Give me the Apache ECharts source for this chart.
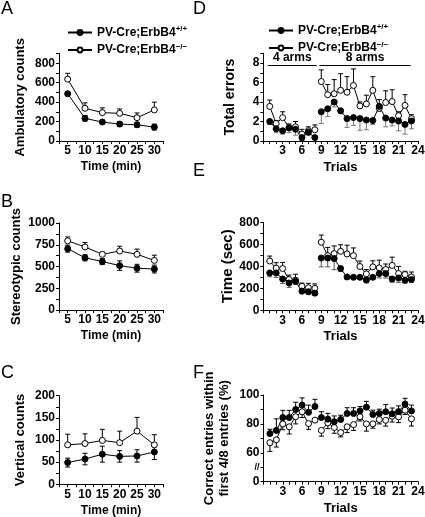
<!DOCTYPE html>
<html><head><meta charset="utf-8">
<script src="https://cdn.jsdelivr.net/npm/echarts@6/dist/echarts.min.js"></script>
<style>html,body{margin:0;padding:0;background:#fff}#c{width:425px;height:517px}</style>
</head><body><div id="c"></div>
<script>
// ---------- data ----------
const timeMin = [5, 10, 15, 20, 25, 30];
const trials = [1,2,3,4,5,6,7,8,9,10,11,12,13,14,15,16,17,18,19,20,21,22,23];
const nameWT = 'PV-Cre;ErbB4+/+';
const nameKO = 'PV-Cre;ErbB4−/−';

// A ambulatory counts
const ambWT = [487, 233, 195, 174, 167, 143];
const ambWTerr = [20, 28, 18, 25, 25, 30];
const ambKO = [637, 337, 292, 285, 240, 320];
const ambKOerr = [60, 56, 49, 45, 49, 80];
// B stereotypic counts
const stWT = [705, 600, 557, 510, 480, 471];
const stWTerr = [40, 35, 35, 55, 45, 45];
const stKO = [795, 725, 640, 678, 640, 570];
const stKOerr = [45, 50, 25, 55, 60, 60];
// C vertical counts
const vcWT = [49, 57, 68, 63, 64, 73];
const vcWTerr = [10, 13, 18, 13, 14, 17];
const vcKO = [89, 92, 99, 94, 120, 89];
const vcKOerr = [24, 22, 25, 26, 31, 23];
// D total errors
const teWT = [2.0,1.25,1.05,1.35,1.2,0.35,0.9,0.35, 3.0,3.3,4.0,3.1,2.3,2.4,2.3,2.15,2.1,3.55,2.35,2.15,2.05,1.7,2.05];
const teWTerr = [0.3,0.4,0.35,0.5,0.6,0.3,0.3,0.2, 1.2,0.8,0.5,0.3,0.9,0.8,1.2,1.0,0.4,0.5,0.9,0.6,1.0,1.0,0.8];
const teKO = [3.55,1.8,2.4,1.35,1.45,0.7,1.05,1.15, 6.1,4.75,4.85,5.2,5.0,5.7,3.6,3.8,5.2,3.35,3.95,4.05,2.6,3.65,2.3];
const teKOerr = [0.65,0.3,0.6,0.4,0.55,0.5,0.4,0.5, 1.2,1.05,1.45,1.7,1.6,1.7,0.4,0.9,1.4,0.9,1.2,1.2,0.4,1.1,0.4];
// E time (sec)
const tsWT = [340,340,285,248,265,175,169,156, 475,475,470,380,303,300,300,275,300,334,334,285,294,273,280];
const tsWTerr = [35,40,40,40,30,25,20,20, 80,80,100,25,20,15,15,25,20,40,40,30,40,25,25];
const tsKO = [448,383,380,280,273,218,205,200, 619,497,515,536,512,497,398,331,395,386,371,408,334,325,303];
const tsKOerr = [45,50,55,40,55,30,40,40, 65,75,70,60,80,70,50,40,55,70,50,75,65,30,45];
// F correct entries (%)
const ceWT = [73.3,75.5,84.4,84.4,90,93,88,92, 84.4,83.3,81.5,83,87.2,87.2,89,91.6,86.5,87.2,88.4,87,88.5,93.7,89];
const ceWTerr = [3,8,5,5,5,5,5,5, 4,4,4,3,4,4,3,4,3,3,5,4,4,4,4];
const ceKO = [67,69,80,78,85,88.4,80.2,82.6, 75.5,80.7,77.5,74,78,79.5,85,80,80,83,82.5,85.3,84.9,89.5,83.5];
const ceKOerr = [6,5,4,5,5,4,4,0, 4,4,4,3,4,4,3,5,3,3,4,4,4,3,5];

// arms annotation (panel D), in data units
const armLabels = ['4 arms', '8 arms'];
const armFrom = [0.7, 8.7];
const armTo = [8.3, 22.9];
const armLevel = 7.8;

// axis tick label sets
const ticksA = [0, 200, 400, 600, 800];
const ticksB = [0, 250, 500, 750, 1000];
const ticksC = [0, 50, 100, 150, 200];
const ticksD = [0, 2, 4, 6, 8];
const ticksE = [0, 200, 400, 600, 800];
const ticksF = [60, 80, 100];
// panel F has a broken y axis: the segment from 0 up to the break is drawn compressed
const axisFLow = 40;      // axis position where the "0" label sits (below the break)
const axisFLowLabel = '0';
const axisFBreakAt = 50;  // where the break mark sits
const ticksTime = [5, 10, 15, 20, 25, 30];
const ticksTrials = [3, 6, 9, 12, 15, 18, 21, 24];

// ---------- chart ----------
const FONT = 'Liberation Sans';
const chart = echarts.init(document.getElementById('c'), null, {renderer: 'canvas'});

const grids = [
  {left: 59, top: 53.6, width: 104, height: 87.4},
  {left: 59, top: 223, width: 104, height: 87},
  {left: 59, top: 395.7, width: 104, height: 88.6},
  {left: 263.3, top: 53.3, width: 154.6, height: 87.7},
  {left: 263.3, top: 222.3, width: 154.6, height: 88},
  {left: 263.5, top: 395, width: 154.4, height: 86.7}
].map(g => Object.assign({containLabel: false, outerBoundsMode: 'none'}, g));

const axisCommon = {
  axisLine: {lineStyle: {color: '#000', width: 1}},
  axisTick: {lineStyle: {color: '#000', width: 1}, length: 3},
  splitLine: {show: false},
  axisLabel: {color: '#000', fontFamily: FONT, fontWeight: 'bold', fontSize: 12, margin: 4}
};
function fmt(list) { return v => (list.some(t => Math.abs(t - v) < 1e-6) ? String(v) : ''); }

function xTime(i) {
  return Object.assign({}, axisCommon, {
    type: 'value', gridIndex: i, min: 2.5, max: 32.5, interval: 2.5,
    axisLabel: Object.assign({}, axisCommon.axisLabel, {formatter: fmt(ticksTime)}),
    name: 'Time (min)', nameLocation: 'middle', nameGap: 20,
    nameTextStyle: {color: '#000', fontFamily: FONT, fontWeight: 'bold', fontSize: 12}
  });
}
function xTrial(i) {
  return Object.assign({}, axisCommon, {
    type: 'value', gridIndex: i, min: 0, max: 24, interval: 1,
    axisLabel: Object.assign({}, axisCommon.axisLabel, {formatter: fmt(ticksTrials)}),
    name: 'Trials', nameLocation: 'middle', nameGap: 20,
    nameTextStyle: {color: '#000', fontFamily: FONT, fontWeight: 'bold', fontSize: 13}
  });
}
function yAx(i, min, max, interval, labelFn, name, gap, fs, lh) {
  return Object.assign({}, axisCommon, {
    type: 'value', gridIndex: i, min: min, max: max, interval: interval,
    axisLabel: Object.assign({}, axisCommon.axisLabel, {formatter: labelFn}),
    name: name, nameLocation: 'middle', nameGap: gap,
    nameTextStyle: {color: '#000', fontFamily: FONT, fontWeight: 'bold', fontSize: fs || 13, lineHeight: lh || 16}
  });
}

function lineData(xs, ys, gapAfter8) {
  const out = [];
  xs.forEach((x, k) => {
    if (gapAfter8 && x === 9) out.push([8.5, '-']);
    out.push([x, ys[k]]);
  });
  return out;
}
function errData(xs, ys, es, dir) {
  return xs.map((x, k) => {
    const v = ys[k], e = es[k];
    const lo = dir === 'up' ? v : v - e;
    const hi = dir === 'down' ? v : v + e;
    return [x, lo, hi, dir !== 'down' ? 1 : 0, dir !== 'up' ? 1 : 0];
  });
}
function errSeries(i, data, color) {
  return {
    type: 'custom', name: 'err' + i + color, xAxisIndex: i, yAxisIndex: i, z: 1, silent: true,
    encode: {x: 0, y: [1, 2]},
    renderItem(params, api) {
      const x = api.value(0), lo = api.value(1), hi = api.value(2);
      const p1 = api.coord([x, lo]), p2 = api.coord([x, hi]);
      const ch = [{type: 'line', shape: {x1: p1[0], y1: p1[1], x2: p2[0], y2: p2[1]}, style: {stroke: color, lineWidth: 1}}];
      if (api.value(3)) ch.push({type: 'line', shape: {x1: p2[0] - 2.5, y1: p2[1], x2: p2[0] + 2.5, y2: p2[1]}, style: {stroke: color, lineWidth: 1}});
      if (api.value(4)) ch.push({type: 'line', shape: {x1: p1[0] - 2.5, y1: p1[1], x2: p1[0] + 2.5, y2: p1[1]}, style: {stroke: color, lineWidth: 1}});
      return {type: 'group', children: ch};
    },
    data: data
  };
}
function lineSeries(i, name, data, filled, extra) {
  return Object.assign({
    type: 'line', name: name, xAxisIndex: i, yAxisIndex: i, z: 3,
    data: data, symbol: 'circle', symbolSize: 6, connectNulls: false,
    lineStyle: {color: '#000', width: 1},
    itemStyle: filled ? {color: '#000', borderColor: '#000', borderWidth: 1} : {color: '#fff', borderColor: '#000', borderWidth: 1},
    emphasis: {disabled: true}, animation: false
  }, extra || {});
}

const panels = [
  {x: timeMin, wt: ambWT, wtE: ambWTerr, ko: ambKO, koE: ambKOerr, wtDir: 'both', koDir: 'up', gap: false, wtCol: '#000'},
  {x: timeMin, wt: stWT, wtE: stWTerr, ko: stKO, koE: stKOerr, wtDir: 'both', koDir: 'up', gap: false, wtCol: '#000'},
  {x: timeMin, wt: vcWT, wtE: vcWTerr, ko: vcKO, koE: vcKOerr, wtDir: 'both', koDir: 'up', gap: false, wtCol: '#000'},
  {x: trials, wt: teWT, wtE: teWTerr, ko: teKO, koE: teKOerr, wtDir: 'down', koDir: 'up', gap: true, wtCol: '#777'},
  {x: trials, wt: tsWT, wtE: tsWTerr, ko: tsKO, koE: tsKOerr, wtDir: 'down', koDir: 'up', gap: true, wtCol: '#555'},
  {x: trials, wt: ceWT, wtE: ceWTerr, ko: ceKO, koE: ceKOerr, wtDir: 'up', koDir: 'down', gap: true, wtCol: '#000'}
];

const series = [];
panels.forEach((p, i) => {
  series.push(errSeries(i, errData(p.x, p.wt, p.wtE, p.wtDir), p.wtCol));
  series.push(errSeries(i, errData(p.x, p.ko, p.koE, p.koDir), '#000'));
  const extra = {};
  if (i === 3) {
    extra.markLine = {
      silent: true, symbol: ['none', 'none'], animation: false,
      lineStyle: {color: '#000', width: 1.2, type: 'solid'},
      label: {show: true, position: 'insideMiddleTop', distance: 1, color: '#000', fontFamily: FONT, fontWeight: 'bold', fontSize: 12,
              formatter: prm => prm.name},
      data: armLabels.map((lab, k) => [{name: lab, coord: [armFrom[k], armLevel]}, {coord: [armTo[k], armLevel]}])
    };
  }
  series.push(lineSeries(i, nameKO, lineData(p.x, p.ko, p.gap), false));
  series.push(lineSeries(i, nameWT, lineData(p.x, p.wt, p.gap), true, extra));
});

const legendBase = {
  orient: 'vertical', itemWidth: 24, itemHeight: 6, itemGap: 4, data: [nameWT, nameKO],
  selectedMode: false,
  textStyle: {color: '#000', fontFamily: FONT, fontWeight: 'bold', fontSize: 12,
    rich: {sup: {fontFamily: FONT, fontWeight: 'bold', fontSize: 8, color: '#000', verticalAlign: 'top', padding: [0, 0, 7, 0]}}},
  formatter: n => n.replace(/(\+\/\+|−\/−)$/, '{sup|$1}')
};

const titleStyle = {color: '#000', fontFamily: FONT, fontWeight: 'normal', fontSize: 18};
const letters = [['A', 1, 0], ['B', 1, 193], ['C', 1, 364], ['D', 193, 0], ['E', 193, 162], ['F', 193, 364]];

function fLabel(v) {
  if (Math.abs(v - axisFLow) < 1e-6) return axisFLowLabel;
  if (Math.abs(v - axisFBreakAt) < 1e-6) return '{brk|//}';
  return ticksF.some(t => Math.abs(t - v) < 1e-6) ? String(v) : '';
}

const yF = yAx(5, axisFLow, 100, 10, fLabel, 'Correct entries within\nfirst 4/8 entries (%)', 32, 13, 15);
yF.axisLabel = Object.assign({}, yF.axisLabel, {
  hideOverlap: false,
  rich: {brk: {fontFamily: FONT, fontWeight: 'bold', fontSize: 9, color: '#000'}}
});
yF.nameMoveOverlap = false;

chart.setOption({
  animation: false,
  backgroundColor: '#fff',
  title: letters.map(l => ({text: l[0], left: l[1], top: l[2], padding: 0, textStyle: titleStyle})),
  legend: [
    Object.assign({left: 62, top: 20}, legendBase),
    Object.assign({left: 263, top: 18}, legendBase)
  ],
  grid: grids,
  xAxis: [xTime(0), xTime(1), xTime(2), xTrial(3), xTrial(4), xTrial(5)],
  yAxis: [
    yAx(0, 0, 900, 100, fmt(ticksA), 'Ambulatory counts', 31),
    yAx(1, 0, 1000, 125, fmt(ticksB), 'Stereotypic counts', 31),
    yAx(2, 0, 200, 25, fmt(ticksC), 'Vertical counts', 31),
    yAx(3, 0, 9, 1, fmt(ticksD), 'Total errors', 25, 14),
    yAx(4, 0, 800, 100, fmt(ticksE), 'Time (sec)', 27, 15),
    yF
  ],
  series: series
});
</script></body></html>
